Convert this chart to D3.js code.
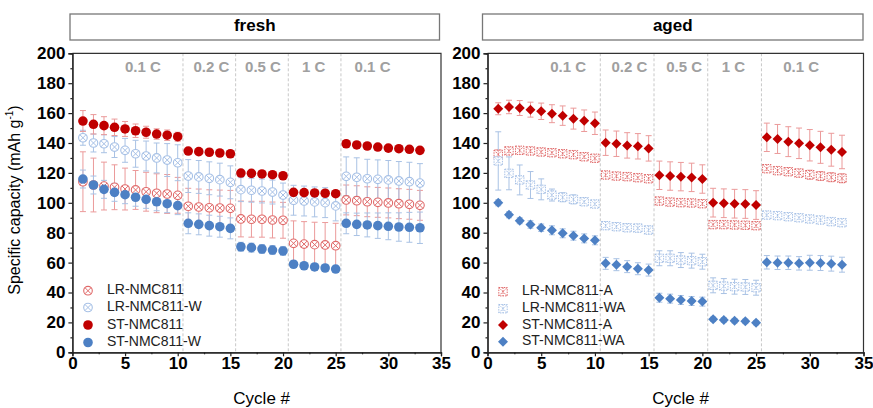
<!DOCTYPE html>
<html>
<head>
<meta charset="utf-8">
<script src="https://cdn.jsdelivr.net/npm/d3@7"></script>
<style>
  body { margin: 0; background: #fff; }
  svg { display: block; font-family: 'Liberation Sans', Arial, sans-serif; }
</style>
</head>
<body>
<div id="chart"></div>
<script>
// cycle numbers 1..33
const cycles = [1,2,3,4,5,6,7,8,9,10,11,12,13,14,15,16,17,18,19,20,21,22,23,24,25,26,27,28,29,30,31,32,33]
const rateLabels = ['0.1 C', '0.2 C', '0.5 C', '1 C', '0.1 C']
const rateBreaks = [10.5, 15.5, 20.5, 25.5]
const rateCentersFresh = [6.7, 13.2, 18.1, 22.9, 28.5]
const rateCentersAged = [7.5, 13.2, 18.3, 22.9, 29.2]
const yTicks = [0, 20, 40, 60, 80, 100, 120, 140, 160, 180, 200]
const xTicks = [0, 5, 10, 15, 20, 25, 30, 35]

// fresh
const lrFresh = [114.1,111.9,111.2,110.4,109.2,108.6,107.4,106.4,105.9,105.0, 97.7,97.2,96.7,96.5,96.3, 89.2,89.0,89.0,88.5,88.3, 72.9,72.4,72.0,71.8,71.3, 101.9,101.4,100.7,100.3,99.9,99.4,99.0,98.3]
const lrFreshErr = [20,18,16,15,14,13,13,13,13,12, 12,12,12,12,12, 12,12,12,12,12, 15,15,15,15,15, 10,10,10,10,10,10,10,10]
const lrwFresh = [143.5,140.0,139.5,137.3,135.1,132.8,131.3,130.0,128.6,126.8, 117.9,117.3,116.4,115.5,113.7, 108.8,108.4,107.9,107.2,105.2, 101.7,101.2,100.6,100.1,97.9, 117.7,117.1,116.1,115.7,115.3,114.6,114.1,113.2]
const lrwFreshErr = [5,6,6,7,8,9,10,10,11,12, 11,11,11,11,11, 8,8,8,8,8, 10,10,10,10,10, 13,13,13,13,13,13,13,13]
const stFresh = [154.7,152.5,151.6,150.5,149.4,148.2,147.2,146.0,145.2,144.2, 134.6,134.2,133.8,133.3,132.8, 119.9,119.7,119.3,118.8,118.1, 107.0,106.8,106.6,106.4,106.1, 139.5,138.7,138.0,137.3,136.6,136.2,135.8,135.1]
const stFreshErr = [7,6.5,6,5.5,5,4.5,4,3.5,3.5,3, 1.5,1.5,1.5,1.5,1.5, 1.5,1.5,1.5,1.5,1.5, 1.5,1.5,1.5,1.5,1.5, 1.5,1.5,1.5,1.5,1.5,1.5,1.5,1.5]
const stwFresh = [115.9,111.9,109.0,107.0,105.4,103.7,102.3,100.7,99.4,98.1, 86.3,85.6,84.7,84.0,82.9, 70.6,70.0,69.1,68.4,67.8, 58.9,57.9,57.1,56.4,55.7, 86.3,85.6,85.2,84.7,84.3,83.8,83.6,83.3]
const stwFreshErr = [6,6,6,6,6,6,6,6,6,6, 7,7,7,7,7, 3,3,3,3,3, 2,2,2,2,2, 7,7.5,8,8.5,9,9.5,10,10.5]

// aged
const lrAged = [132.4,134.7,135.1,134.7,134.0,133.5,132.8,132.2,130.8,129.8, 118.6,117.9,117.5,116.8,116.1, 101.2,100.5,100.1,99.9,99.4, 85.4,85.4,85.2,85.0,84.7, 122.8,121.5,120.8,119.9,118.8,117.9,117.1,116.4]
const lrAgedErr = [3,2,2,2,2,2,2,2,2,2, 2,2,2,2,2, 1.5,1.5,1.5,1.5,1.5, 1.5,1.5,1.5,1.5,1.5, 2,2,2.5,2.5,3,3,3,3]
const lrwAged = [128.0,119.7,115.3,111.9,109.0,105.2,103.7,102.3,100.7,99.2, 84.7,84.0,83.3,83.1,81.8, 62.9,62.9,61.7,61.3,60.6, 44.8,44.3,43.9,43.7,43.2, 91.8,91.4,90.7,90.0,89.2,88.5,87.4,86.7]
const lrwAgedErr = [19.5,11,10,9,7,4,3,3,2.5,2, 2.5,2.5,2.5,2.5,2.5, 5,5,5,5,5, 5,5,5,5,5, 1.5,1.5,1.5,1.5,1.5,1.5,1.5,1.5]
const stAged = [162.9,164.1,163.4,162.3,161.2,159.6,158.3,156.3,154.9,153.2, 140.2,139.5,138.4,137.8,136.4, 118.4,117.9,117.5,117.0,115.9, 100.1,99.7,99.4,99.2,98.5, 143.8,142.7,140.9,139.8,138.5,137.1,135.5,134.0]
const stAgedErr = [4,4.5,5,5,5.5,6,6.5,7,7.2,7.5, 8.5,8.5,8.5,8.5,8.5, 9.5,9.5,9.5,9.5,9.5, 9.6,9.6,9.6,9.6,9.6, 9.5,9.7,10,10.2,10.5,10.7,11,11.2]
const stwAged = [100.0,92.0,88.0,85.5,83.3,81.6,79.6,78.0,76.2,74.9, 59.5,58.6,57.3,55.9,55.0, 36.5,35.9,35.0,34.3,33.9, 22.1,21.6,21.1,20.7,19.8, 60.2,59.9,59.9,59.5,59.9,59.7,59.3,58.6]
const stwAgedErr = [2,2,2,2.5,2.5,3,3,3,3,3, 4,4,4,4,4, 3,3,3,3,3, 1.5,1.5,1.5,1.5,1.5, 4.5,4.5,4.5,4.5,5,5,5,5]

const RED = '#c00000', RED_LIGHT = '#e06a6a', RED_ERR = '#eb9a9a'
const BLUE = '#4d80c4', BLUE_LIGHT = '#a6c0e6', BLUE_ERR = '#a9c2e4'

const svg = d3.select('#chart').append('svg')
  .attr('width', 873)
  .attr('height', 408)

// y title
svg.append('text')
  .attr('transform', 'translate(16,200) rotate(-90)')
  .attr('text-anchor', 'middle')
  .attr('dominant-baseline', 'middle')
  .attr('font-size', 16)
  .text('Specific capacity (mAh g')
  .append('tspan').attr('font-size', 10).attr('dy', -6).text('-1')
  .select(function() { return this.parentNode })
  .append('tspan').attr('dy', 6).attr('font-size', 16).text(')')

function marker(g, shape, color, x, y) {
  if (shape === 'circle') {
    g.append('circle').attr('cx', x).attr('cy', y).attr('r', 4.8).attr('fill', color)
  } else if (shape === 'diamond') {
    const k = 5
    g.append('path')
      .attr('d', `M${x},${y-k}L${x+k},${y}L${x},${y+k}L${x-k},${y}Z`)
      .attr('fill', color)
  } else if (shape === 'ocircle') {
    const r = 4.3
    g.append('circle').attr('cx', x).attr('cy', y).attr('r', r)
      .attr('fill', '#fff').attr('stroke', color).attr('stroke-width', 1.1)
    const k = r * 0.7
    g.append('path')
      .attr('d', `M${x-k},${y-k}L${x+k},${y+k}M${x-k},${y+k}L${x+k},${y-k}`)
      .attr('stroke', color).attr('stroke-width', 1)
  } else if (shape === 'osquare') {
    const s = 4.2
    g.append('rect').attr('x', x - s).attr('y', y - s).attr('width', 2 * s).attr('height', 2 * s)
      .attr('fill', '#fff').attr('stroke', color).attr('stroke-width', 1).attr('stroke-dasharray', '1.5,1')
    g.append('path')
      .attr('d', `M${x-s},${y-s}L${x+s},${y+s}M${x-s},${y+s}L${x+s},${y-s}M${x},${y-s}L${x},${y+s}`)
      .attr('stroke', color).attr('stroke-width', 1).attr('stroke-dasharray', '1.5,1')
  }
}

function drawPanel(p) {
  const x = d3.scaleLinear().domain([0, 35]).range([p.left, p.right])
  const y = d3.scaleLinear().domain([0, 200]).range([352.3, 53.3])
  const g = svg.append('g')

  // header box
  g.append('rect')
    .attr('x', p.boxLeft).attr('y', 14)
    .attr('width', p.boxRight - p.boxLeft).attr('height', 26)
    .attr('fill', '#fff').attr('stroke', '#777').attr('stroke-width', 1.3)
  g.append('text')
    .attr('x', (p.boxLeft + p.boxRight) / 2).attr('y', 27)
    .attr('text-anchor', 'middle').attr('dominant-baseline', 'middle')
    .attr('font-size', 17).attr('font-weight', 'bold')
    .text(p.title)

  // rate dividers
  g.selectAll('.div').data(rateBreaks).enter().append('line')
    .attr('x1', d => x(d)).attr('x2', d => x(d))
    .attr('y1', y(200)).attr('y2', y(0))
    .attr('stroke', '#c8c8c8').attr('stroke-dasharray', '3,2')
  g.selectAll('.rate').data(rateLabels).enter().append('text')
    .attr('x', (d, i) => x(p.rateCenters[i])).attr('y', 68)
    .attr('text-anchor', 'middle').attr('dominant-baseline', 'middle')
    .attr('font-size', 15).attr('font-weight', 'bold').attr('fill', '#a0a0a0')
    .text(d => d)

  // error bars
  p.series.forEach(s => {
    const eg = g.append('g').attr('stroke', s.err).attr('stroke-width', 1)
    cycles.forEach((c, i) => {
      const cx = x(c), lo = y(s.values[i] - s.errs[i]), hi = y(s.values[i] + s.errs[i])
      eg.append('line').attr('x1', cx).attr('x2', cx).attr('y1', lo).attr('y2', hi)
      eg.append('line').attr('x1', cx - 3).attr('x2', cx + 3).attr('y1', lo).attr('y2', lo)
      eg.append('line').attr('x1', cx - 3).attr('x2', cx + 3).attr('y1', hi).attr('y2', hi)
    })
  })
  // markers
  p.series.forEach(s => {
    const mg = g.append('g')
    cycles.forEach((c, i) => marker(mg, s.shape, s.color, x(c), y(s.values[i])))
  })

  // frame (top and right)
  g.append('path')
    .attr('d', `M${p.left},${y(200)}H${p.right}V${y(0)}`)
    .attr('fill', 'none').attr('stroke', '#333').attr('stroke-width', 1.2)

  // axes
  const yAxis = g.append('g').attr('transform', 'translate(' + p.left + ',0)')
    .call(d3.axisLeft(y).tickValues(yTicks).tickSize(4).tickPadding(3))
  yAxis.append('g').call(d3.axisLeft(y).tickValues(yTicks.slice(0, -1).map(d => d + 10)).tickSize(2).tickFormat(''))
  const xAxis = g.append('g').attr('transform', 'translate(0,' + y(0) + ')')
    .call(d3.axisBottom(x).tickValues(xTicks).tickSize(4).tickPadding(1))
  xAxis.append('g').call(d3.axisBottom(x).tickValues(xTicks.slice(0, -1).map(d => d + 2.5)).tickSize(2).tickFormat(''))
  g.selectAll('.tick text')
    .attr('font-size', 17).attr('font-weight', 'bold')
    .attr('font-family', "'Liberation Sans', Arial, sans-serif").attr('fill', '#000')
  g.selectAll('.domain, .tick line').attr('stroke', '#222').attr('stroke-width', 1.2)

  g.append('text')
    .attr('x', (p.left + p.right) / 2 + 5).attr('y', 400)
    .attr('text-anchor', 'middle').attr('dominant-baseline', 'middle')
    .attr('font-size', 17)
    .text('Cycle #')

  // legend
  p.series.forEach((s, i) => {
    const ly = p.legendY[i]
    marker(g, s.shape, s.color, p.legendX, ly)
    g.append('text')
      .attr('x', p.legendX + 19).attr('y', ly)
      .attr('dominant-baseline', 'middle').attr('font-size', 14).attr('fill', '#222')
      .text(s.name)
  })
}

drawPanel({
  title: 'fresh', left: 72.4, right: 441, boxLeft: 70, boxRight: 439.5,
  rateCenters: rateCentersFresh, legendX: 88, legendY: [290.7, 307.5, 325, 342.5],
  series: [
    { name: 'LR-NMC811', values: lrFresh, errs: lrFreshErr, shape: 'ocircle', color: RED_LIGHT, err: RED_ERR },
    { name: 'LR-NMC811-W', values: lrwFresh, errs: lrwFreshErr, shape: 'ocircle', color: BLUE_LIGHT, err: BLUE_ERR },
    { name: 'ST-NMC811', values: stFresh, errs: stFreshErr, shape: 'circle', color: RED, err: RED_ERR },
    { name: 'ST-NMC811-W', values: stwFresh, errs: stwFreshErr, shape: 'circle', color: BLUE, err: BLUE_ERR }
  ]
})

drawPanel({
  title: 'aged', left: 487.5, right: 863.5, boxLeft: 482.5, boxRight: 863,
  rateCenters: rateCentersAged, legendX: 503, legendY: [291.7, 308.7, 325, 341.7],
  series: [
    { name: 'LR-NMC811-A', values: lrAged, errs: lrAgedErr, shape: 'osquare', color: RED_LIGHT, err: RED_ERR },
    { name: 'LR-NMC811-WA', values: lrwAged, errs: lrwAgedErr, shape: 'osquare', color: BLUE_LIGHT, err: BLUE_ERR },
    { name: 'ST-NMC811-A', values: stAged, errs: stAgedErr, shape: 'diamond', color: RED, err: RED_ERR },
    { name: 'ST-NMC811-WA', values: stwAged, errs: stwAgedErr, shape: 'diamond', color: BLUE, err: BLUE_ERR }
  ]
})
</script>
</body>
</html>
